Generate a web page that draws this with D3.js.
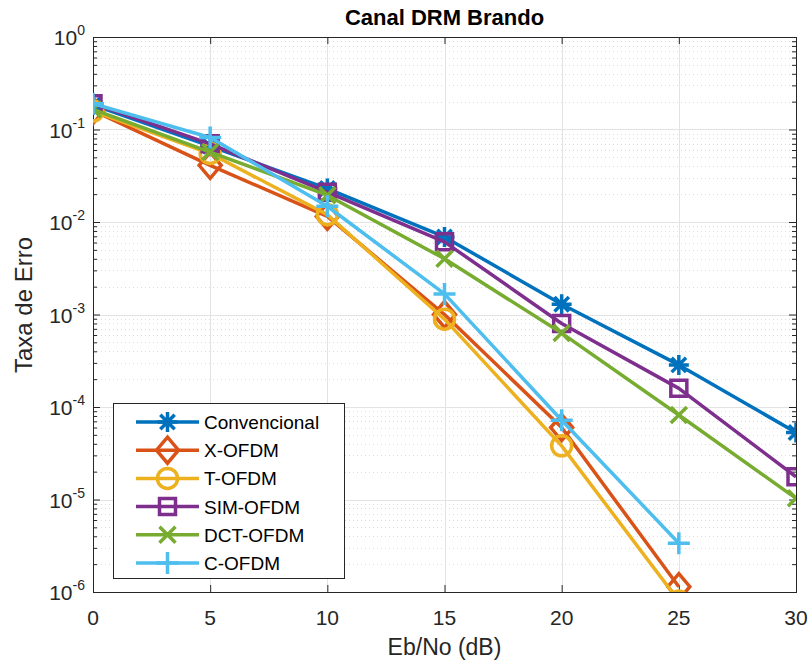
<!DOCTYPE html>
<html>
<head>
<meta charset="utf-8">
<script src="https://cdn.jsdelivr.net/npm/d3@7"></script>
<style>
  body { margin: 0; background: #fff; }
  text { font-family: "Liberation Sans", Arial, Helvetica, sans-serif; fill: #262626; }
</style>
</head>
<body>
<div id="chart-area"></div>
<script>
// Eb/No values (dB)
var ebno = [0, 5, 10, 15, 20, 25, 30];

// error rates per scheme
var convencional = [0.184, 0.066, 0.023, 0.0069, 0.00129, 2.85e-4, 5.3e-5];
var xOfdm = [0.16, 0.041, 0.0115, 1.0e-3, 6.0e-5, 1.14e-6];
var tOfdm = [0.158, 0.055, 0.012, 8.9e-4, 3.8e-5, 8.0e-7];
var simOfdm = [0.19, 0.07, 0.021, 0.0061, 8.0e-4, 1.59e-4, 1.76e-5];
var dctOfdm = [0.165, 0.057, 0.0195, 0.0040, 6.3e-4, 8.2e-5, 1.03e-5];
var cOfdm = [0.19, 0.082, 0.0148, 0.00167, 7.2e-5, 3.37e-6];

var seriesNames = ['Convencional', 'X-OFDM', 'T-OFDM', 'SIM-OFDM', 'DCT-OFDM', 'C-OFDM'];
var seriesValues = [convencional, xOfdm, tOfdm, simOfdm, dctOfdm, cOfdm];
var colors = ['#0072BD', '#D95319', '#EDB120', '#7E2F8E', '#77AC30', '#4DBEEE'];
var markers = ['asterisk', 'diamond', 'circle', 'square', 'cross', 'plus'];

var xTicks = [0, 5, 10, 15, 20, 25, 30];
var yTickExps = [0, -1, -2, -3, -4, -5, -6];

var margin = { left: 93, right: 16, top: 37, bottom: 73 };
var width = 812 - margin.left - margin.right,
    height = 665 - margin.top - margin.bottom;

var svg = d3.select('#chart-area')
    .append('svg')
    .attr('width', 812)
    .attr('height', 665);

var g = svg.append('g')
    .attr('transform', 'translate(' + margin.left + ', ' + margin.top + ')');

var xScale = d3.scaleLinear().domain([0, 30]).range([0, width]);
var yScale = d3.scaleLog().domain([1e-6, 1]).range([height, 0]);

// minor y positions (2..9 of each decade)
var minorY = [];
for (var e = -6; e < 0; e++) {
    for (var k = 2; k <= 9; k++) minorY.push(k * Math.pow(10, e));
}

// minor grid (dotted)
g.append('g').selectAll('line')
    .data(minorY).enter().append('line')
    .attr('x1', 0).attr('x2', width)
    .attr('y1', function(d) { return Math.round(yScale(d)) + 0.5; })
    .attr('y2', function(d) { return Math.round(yScale(d)) + 0.5; })
    .attr('stroke', '#dcdcdc')
    .attr('stroke-width', 1)
    .attr('stroke-dasharray', '1,3');

// major grid
g.append('g').selectAll('line')
    .data(xTicks).enter().append('line')
    .attr('x1', function(d) { return Math.round(xScale(d)) + 0.5; })
    .attr('x2', function(d) { return Math.round(xScale(d)) + 0.5; })
    .attr('y1', 0).attr('y2', height)
    .attr('stroke', '#e3e3e3');

g.append('g').selectAll('line')
    .data(yTickExps).enter().append('line')
    .attr('x1', 0).attr('x2', width)
    .attr('y1', function(d) { return Math.round(yScale(Math.pow(10, d))) + 0.5; })
    .attr('y2', function(d) { return Math.round(yScale(Math.pow(10, d))) + 0.5; })
    .attr('stroke', '#e3e3e3');

// axes: ticks pointing inward on all four sides
var xAxisBottom = d3.axisBottom(xScale).tickValues(xTicks).tickSize(-7).tickFormat('');
var xAxisTop = d3.axisTop(xScale).tickValues(xTicks).tickSize(-7).tickFormat('');
var yAxisLeft = d3.axisLeft(yScale).tickValues(yTickExps.map(function(d) { return Math.pow(10, d); })).tickSize(-7).tickFormat('');
var yAxisRight = d3.axisRight(yScale).tickValues(yTickExps.map(function(d) { return Math.pow(10, d); })).tickSize(-7).tickFormat('');
var yMinorLeft = d3.axisLeft(yScale).tickValues(minorY).tickSize(-4).tickFormat('');
var yMinorRight = d3.axisRight(yScale).tickValues(minorY).tickSize(-4).tickFormat('');

function styleAxis(sel) {
    sel.select('.domain').attr('stroke', '#262626');
    sel.selectAll('.tick line').attr('stroke', '#262626');
}

g.append('g').attr('transform', 'translate(0, ' + height + ')').call(xAxisBottom).call(styleAxis);
g.append('g').call(xAxisTop).call(styleAxis);
g.append('g').call(yAxisLeft).call(styleAxis);
g.append('g').attr('transform', 'translate(' + width + ', 0)').call(yAxisRight).call(styleAxis);
g.append('g').call(yMinorLeft).call(styleAxis);
g.append('g').attr('transform', 'translate(' + width + ', 0)').call(yMinorRight).call(styleAxis);

// tick labels
g.append('g').selectAll('text')
    .data(xTicks).enter().append('text')
    .attr('x', function(d) { return xScale(d); })
    .attr('y', height + 33)
    .attr('text-anchor', 'middle')
    .attr('font-size', '21px')
    .text(function(d) { return d; });

var yLabels = g.append('g').selectAll('text')
    .data(yTickExps).enter().append('text')
    .attr('x', -8)
    .attr('y', function(d) { return yScale(Math.pow(10, d)) + 8; })
    .attr('text-anchor', 'end')
    .attr('font-size', '21px');
yLabels.append('tspan').text('10');
yLabels.append('tspan')
    .attr('dy', -10)
    .attr('font-size', '14px')
    .text(function(d) { return d === 0 ? '0' : '-' + (-d); });

// clip to the axes
svg.append('defs').append('clipPath').attr('id', 'plot-clip')
    .append('rect').attr('x', 0).attr('y', 0).attr('width', width).attr('height', height);

var line = d3.line()
    .x(function(d) { return xScale(d.x); })
    .y(function(d) { return yScale(d.y); });

function markerPath(type) {
    var p = d3.path();
    if (type === 'asterisk') {
        var r = 10, q = 7.2;
        p.moveTo(-r, 0); p.lineTo(r, 0);
        p.moveTo(0, -r); p.lineTo(0, r);
        p.moveTo(-q, -q); p.lineTo(q, q);
        p.moveTo(-q, q); p.lineTo(q, -q);
    } else if (type === 'diamond') {
        p.moveTo(0, -13); p.lineTo(11, 0); p.lineTo(0, 13); p.lineTo(-11, 0); p.closePath();
    } else if (type === 'circle') {
        p.moveTo(10, 0); p.arc(0, 0, 10, 0, 2 * Math.PI);
    } else if (type === 'square') {
        p.rect(-8, -8, 16, 16);
    } else if (type === 'cross') {
        p.moveTo(-8, -8); p.lineTo(8, 8);
        p.moveTo(-8, 8); p.lineTo(8, -8);
    } else if (type === 'plus') {
        p.moveTo(-11, 0); p.lineTo(11, 0);
        p.moveTo(0, -11); p.lineTo(0, 11);
    }
    return p.toString();
}

var plot = g.append('g').attr('clip-path', 'url(#plot-clip)');

seriesValues.forEach(function(vals, i) {
    var pts = vals.map(function(v, j) { return { x: ebno[j], y: v }; });
    var sg = plot.append('g');
    sg.append('path')
        .datum(pts)
        .attr('d', line)
        .attr('fill', 'none')
        .attr('stroke', colors[i])
        .attr('stroke-width', 3.5)
        .attr('stroke-linejoin', 'round');
    sg.selectAll('.mk')
        .data(pts).enter().append('path')
        .attr('class', 'mk')
        .attr('transform', function(d) { return 'translate(' + xScale(d.x) + ',' + yScale(d.y) + ')'; })
        .attr('d', markerPath(markers[i]))
        .attr('fill', 'none')
        .attr('stroke', colors[i])
        .attr('stroke-width', 3.5);
});

// legend
var legend = svg.append('g').attr('transform', 'translate(113, 403)');
legend.append('rect')
    .attr('x', 0.5).attr('y', 0.5)
    .attr('width', 231).attr('height', 175)
    .attr('fill', '#fff')
    .attr('stroke', '#262626');

seriesNames.forEach(function(name, i) {
    var yy = 19 + i * 28.2;
    legend.append('line')
        .attr('x1', 23).attr('x2', 86)
        .attr('y1', yy).attr('y2', yy)
        .attr('stroke', colors[i])
        .attr('stroke-width', 3.5);
    legend.append('path')
        .attr('transform', 'translate(54.5,' + yy + ')')
        .attr('d', markerPath(markers[i]))
        .attr('fill', 'none')
        .attr('stroke', colors[i])
        .attr('stroke-width', 3.5);
    legend.append('text')
        .attr('x', 91)
        .attr('y', yy + 7)
        .attr('font-size', '19px')
        .style('fill', '#000')
        .text(name);
});

// title and axis labels
svg.append('text')
    .attr('x', margin.left + width / 2)
    .attr('y', 25)
    .attr('text-anchor', 'middle')
    .attr('font-size', '22px')
    .attr('font-weight', 'bold')
    .style('fill', '#000')
    .text('Canal DRM Brando');

svg.append('text')
    .attr('x', margin.left + width / 2)
    .attr('y', 655)
    .attr('text-anchor', 'middle')
    .attr('font-size', '23px')
    .text('Eb/No (dB)');

svg.append('text')
    .attr('transform', 'translate(32, 305) rotate(-90)')
    .attr('text-anchor', 'middle')
    .attr('font-size', '24px')
    .text('Taxa de Erro');
</script>
</body>
</html>
